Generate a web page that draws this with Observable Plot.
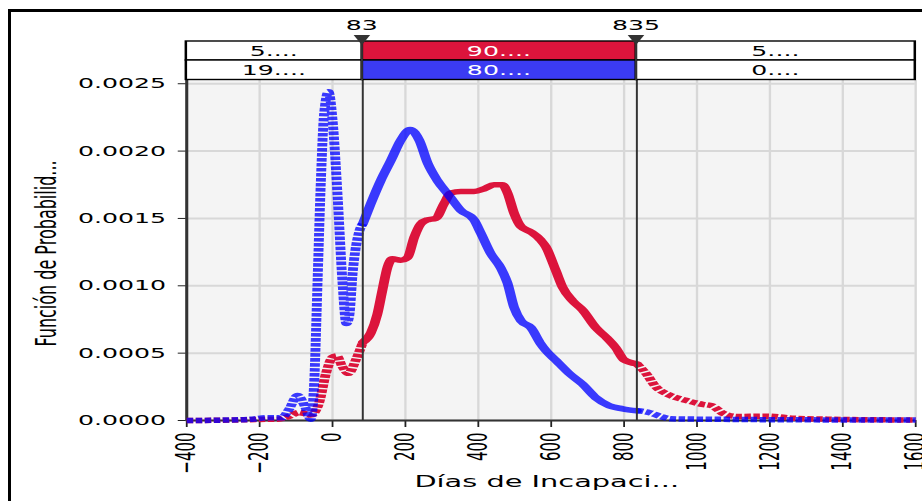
<!DOCTYPE html>
<html>
<head>
<meta charset="utf-8">
<script src="https://cdn.jsdelivr.net/npm/d3@7"></script>
<script src="https://cdn.jsdelivr.net/npm/@observablehq/plot@0.6"></script>
<style>
html, body { margin: 0; padding: 0; background: #fff; }
#wrap { position: relative; width: 922px; height: 501px; overflow: hidden; }
#border { position: absolute; left: 8px; top: 9px; right: -10px; bottom: -10px;
  border-left: 3px solid #000; border-top: 3px solid #000; pointer-events: none; }
</style>
</head>
<body>
<div id="wrap"><div id="border"></div></div>
<script>
// ---------- data ----------
const xLabel = "Días de Incapaci...";
const yLabel = "Función de Probabilid...";
const cutLow = 83;
const cutHigh = 835;
const xTicks = [-400, -200, 0, 200, 400, 600, 800, 1000, 1200, 1400, 1600];
const yTicks = [0, 0.0005, 0.0010, 0.0015, 0.0020, 0.0025];
const redRowLabels = ["5....", "90....", "5...."];
const blueRowLabels = ["19....", "80....", "0...."];

const redX = [-400, -300, -200, -150, -120, -92, -75, -60, -37, -18, 0, 11, 27, 44, 64, 83,
  105, 123, 137, 151, 164, 187, 206, 224, 242, 261, 283, 306, 325, 352, 388, 416, 443, 466,
  480, 498, 517, 544, 571, 585, 613, 631, 658, 686, 722, 750, 777, 800, 835,
  860, 887, 923, 969, 1015, 1040, 1074, 1111, 1193, 1266, 1358, 1450, 1600];
const redY = [0, 0.000002, 0.000008, 0.00001, 0.00003, 0.00006, 0.00005, 0.00004, 0.00013,
  0.00035, 0.00047, 0.00048, 0.0004, 0.00035, 0.00045, 0.00058,
  0.00065, 0.00079, 0.00097, 0.00114, 0.0012, 0.00119, 0.00121, 0.00136, 0.00146, 0.00149,
  0.0015, 0.00161, 0.00169, 0.0017, 0.0017, 0.00172, 0.00175, 0.00175,
  0.00169, 0.00154, 0.00144, 0.0014, 0.00134, 0.00129, 0.00111, 0.00099, 0.00089, 0.00082,
  0.00069, 0.00062, 0.00054, 0.00045, 0.00042,
  0.00035, 0.00025, 0.00019, 0.00015, 0.00012, 0.00011, 0.00005, 0.00003, 0.000032,
  0.000017, 0.00001, 0.000006, 0.000004];

const blueX = [-400, -300, -220, -180, -140, -120, -96, -75, -60, -50, -41, -32, -23, -11, 0,
  14, 27, 38, 46, 55, 73, 83, 105, 132, 160, 187, 213, 238, 261, 288, 320, 352, 388, 407,
  434, 462, 480, 498, 517, 544, 571, 585, 613, 649, 686, 722, 759, 796, 835,
  868, 900, 928, 1000, 1100, 1200, 1300, 1400, 1500, 1600];
const blueY = [0, 0.000003, 0.00001, 0.00002, 0.00002, 0.00008, 0.000186, 0.0001, 0.00001,
  0.0003, 0.00104, 0.00178, 0.00228, 0.00244, 0.00223,
  0.00166, 0.00104, 0.00072, 0.00078, 0.00109, 0.0014, 0.00146, 0.00161, 0.00178, 0.00193,
  0.00208, 0.00216, 0.00208, 0.00191, 0.00178, 0.00167, 0.00156, 0.00149, 0.00139,
  0.00124, 0.00113, 0.00102, 0.00084, 0.00074, 0.00069, 0.00057, 0.00052, 0.000446,
  0.00035, 0.00027, 0.00017, 0.00011, 0.000087, 0.000072,
  0.00006, 0.00003, 0.000013, 0.00001, 0.000008, 0.000006, 0.000005, 0.000004, 0.000003, 0.000003];

// ---------- build ----------
const RED = "#dc143c";
const BLUE = "#0000ff";
const BLUE_FILL = "#3b3bf3";
const W = 512, H = 501;

const toRows = (xs, ys) => xs.map((x, i) => ({x, y: ys[i]}));
const red = toRows(redX, redY);
const blue = toRows(blueX, blueY);
const inside = d => d.x >= cutLow && d.x <= cutHigh;
const leftOut = d => d.x <= cutLow;
const rightOut = d => d.x >= cutHigh;

const lineOpts = (data, color, opacity, dashed) => Plot.line(data, {
  x: "x", y: "y", stroke: color, strokeOpacity: opacity, strokeWidth: 5.5,
  curve: "monotone-x", strokeLinecap: dashed ? "butt" : "round",
  strokeDasharray: dashed ? "3.6,1.4" : null
});

const plot = Plot.plot({
  width: W, height: H,
  marginLeft: 103.2, marginRight: 4, marginTop: 80, marginBottom: 81,
  style: {fontFamily: "'DejaVu Sans', Verdana, sans-serif", fontSize: "14px", color: "#000", background: "transparent"},
  x: {domain: [xTicks[0], xTicks[xTicks.length - 1]]},
  y: {domain: [0, 0.002524]},
  marks: [
    Plot.frame({fill: "#f4f4f4", stroke: null}),
    Plot.gridX(xTicks, {stroke: "#d8d8d8", strokeOpacity: 1, strokeWidth: 1.3}),
    Plot.gridY(yTicks, {stroke: "#d8d8d8", strokeOpacity: 1, strokeWidth: 2}),
    Plot.axisX(xTicks, {tickFormat: d3.format("d"), tickRotate: -90, tickSize: 7, tickPadding: 5, fontSize: 15, label: null, stroke: "#222"}),
    Plot.axisY(yTicks, {tickFormat: d3.format(".4f"), tickSize: 4.5, tickPadding: 7, fontSize: 14, label: null, stroke: "#222"}),
    Plot.ruleX([xTicks[0]], {stroke: "#333", strokeWidth: 1.7}),
    Plot.ruleY([0], {stroke: "#333", strokeWidth: 2}),
    lineOpts(red.filter(leftOut), RED, 1, true),
    lineOpts(red.filter(rightOut), RED, 1, true),
    lineOpts(red.filter(inside), RED, 1, false),
    lineOpts(blue.filter(leftOut), BLUE, 0.77, true),
    lineOpts(blue.filter(rightOut), BLUE, 0.77, true),
    lineOpts(blue.filter(inside), BLUE, 0.77, false),
    Plot.ruleX([cutLow, cutHigh], {stroke: "#333", strokeWidth: 1.1}),
    Plot.text([xLabel], {frameAnchor: "bottom", dy: 66, dx: -2.5, fontSize: 16, fill: "#000"}),
    Plot.text([yLabel], {frameAnchor: "left", textAnchor: "middle", rotate: -90, dx: -77.7, dy: 3, fontSize: 16, fill: "#000"})
  ]
});

// ---------- band table & markers (drawn with the plot's x scale) ----------
const xs = plot.scale("x");
const bounds = [xTicks[0], cutLow, cutHigh, xTicks[xTicks.length - 1]];
const svg = d3.select(plot);
const g = svg.append("g").attr("font-family", "'DejaVu Sans', Verdana, sans-serif").attr("font-size", 14);
const rows = [
  {labels: redRowLabels, color: RED, y0: 41, y1: 60},
  {labels: blueRowLabels, color: BLUE_FILL, y0: 60, y1: 79.5}
];
rows.forEach(r => {
  r.labels.forEach((lab, i) => {
    const x0 = xs.apply(bounds[i]), x1 = xs.apply(bounds[i + 1]);
    const colored = i === 1;
    g.append("rect").attr("x", x0).attr("y", r.y0).attr("width", x1 - x0).attr("height", r.y1 - r.y0)
      .attr("fill", colored ? r.color : "#fff").attr("stroke", "#000").attr("stroke-width", 1.4);
    g.append("text").attr("x", (x0 + x1) / 2).attr("y", (r.y0 + r.y1) / 2).attr("dy", "0.36em")
      .attr("text-anchor", "middle").attr("fill", colored ? "#fff" : "#000").text(lab);
  });
});
[cutLow, cutHigh].forEach(c => {
  const cx = xs.apply(c);
  g.append("line").attr("x1", cx).attr("x2", cx).attr("y1", 40).attr("y2", 80).attr("stroke", "#333").attr("stroke-width", 1.1);
  g.append("path").attr("d", `M${cx - 4.6},35L${cx + 4.6},35L${cx},45Z`).attr("fill", "#333");
  g.append("text").attr("x", cx).attr("y", 30.5).attr("text-anchor", "middle").attr("fill", "#000").text(d3.format("d")(c));
});

// stretch horizontally to the page width
plot.setAttribute("width", 922);
plot.setAttribute("height", 501);
plot.setAttribute("preserveAspectRatio", "none");
plot.style.width = "922px";
plot.style.height = "501px";
plot.style.maxWidth = "none";
plot.style.display = "block";
document.getElementById("wrap").appendChild(plot);
</script>
</body>
</html>
